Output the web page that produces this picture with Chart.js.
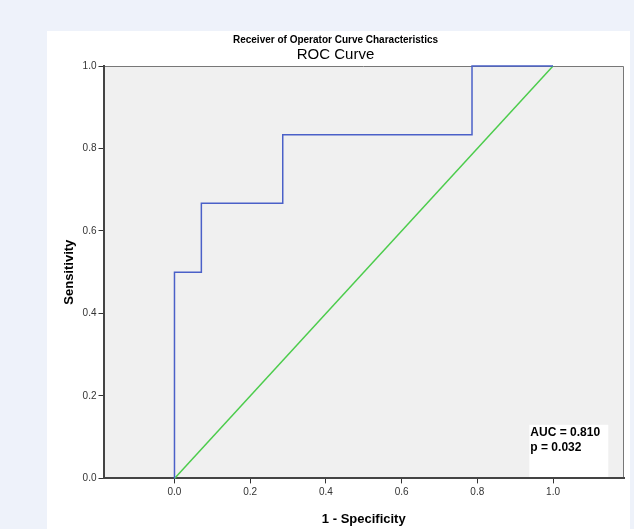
<!DOCTYPE html>
<html lang="en">
<head>
<meta charset="UTF-8">
<title>ROC Curve</title>
<script src="https://cdn.jsdelivr.net/npm/chart.js"></script>
<style>
  body { margin: 0; background: #eef2fa; }
  #panel { position: absolute; left: 47px; top: 31px; width: 583px; height: 498px; background: #fff; }
</style>
</head>
<body>
<div id="panel"><canvas id="roc" width="583" height="498"></canvas></div>
<script>
// ROC curve corners (1 - specificity, sensitivity)
const rocX = [0, 0, 0.071, 0.071, 0.286, 0.286, 0.786, 0.786, 1.0];
const rocY = [0, 0.5, 0.5, 0.667, 0.667, 0.833, 0.833, 1.0, 1.0];
// reference line
const refX = [0, 1];
const refY = [0, 1];
const xTicks = [0, 0.2, 0.4, 0.6, 0.8, 1.0];
const yTicks = [0, 0.2, 0.4, 0.6, 0.8, 1.0];
const statLines = ['AUC = 0.810', 'p = 0.032'];

const font = "'Liberation Sans', Arial, sans-serif";

const plotBg = {
  id: 'plotBg',
  beforeDraw(chart) {
    const a = chart.chartArea, ctx = chart.ctx;
    ctx.save();
    ctx.fillStyle = '#f0f0f0';
    ctx.fillRect(a.left, a.top, a.right - a.left, a.bottom - a.top);
    // white box holding the stats
    const x = chart.scales.x, y = chart.scales.y;
    const bx = x.getPixelForValue(0.9375), bx2 = x.getPixelForValue(1.146);
    const by = y.getPixelForValue(0.13);
    ctx.fillStyle = '#ffffff';
    ctx.fillRect(bx, by, bx2 - bx, a.bottom - by);
    ctx.fillStyle = '#000';
    ctx.font = "bold 12px 'Liberation Sans Narrow', 'Liberation Sans', Arial, sans-serif";
    ctx.textBaseline = 'top';
    statLines.forEach((t, i) => ctx.fillText(t, bx + 1, by + 2 + i * 15));
    // thin top / right frame
    ctx.strokeStyle = '#777';
    ctx.lineWidth = 1;
    ctx.beginPath();
    ctx.moveTo(a.left, a.top + 0.5);
    ctx.lineTo(a.right - 0.5, a.top + 0.5);
    ctx.lineTo(a.right - 0.5, a.bottom);
    ctx.stroke();
    ctx.restore();
  }
};

new Chart(document.getElementById('roc'), {
  type: 'scatter',
  data: {
    datasets: [{
      label: 'ROC',
      data: rocX.map((v, i) => ({ x: v, y: rocY[i] })),
      showLine: true,
      borderColor: '#4a60c8',
      borderWidth: 1.5,
      pointRadius: 0,
      clip: 3
    }, {
      label: 'Reference',
      data: refX.map((v, i) => ({ x: v, y: refY[i] })),
      showLine: true,
      borderColor: '#4ccc4c',
      borderWidth: 1.5,
      pointRadius: 0,
      clip: 3
    }]
  },
  options: {
    responsive: false,
    animation: false,
    layout: { padding: { left: 0, right: 6, top: 0, bottom: 0 } },
    plugins: {
      legend: { display: false },
      tooltip: { enabled: false },
      title: {
        display: true,
        text: 'Receiver of Operator Curve Characteristics',
        color: '#000',
        font: { family: font, size: 10, weight: 'bold' },
        padding: { top: 3, bottom: 0 }
      },
      subtitle: {
        display: true,
        text: 'ROC Curve',
        color: '#000',
        font: { family: font, size: 15 },
        padding: { top: 0, bottom: 2 }
      }
    },
    scales: {
      x: {
        type: 'linear',
        min: -0.1875,
        max: 1.1875,
        afterBuildTicks: s => { s.ticks = xTicks.map(v => ({ value: v })); },
        ticks: { color: '#333', font: { family: font, size: 10 }, callback: v => v.toFixed(1), padding: 3, maxRotation: 0 },
        grid: { drawOnChartArea: false, drawTicks: true, tickLength: 5, color: '#333' },
        border: { display: true, color: '#444', width: 2 },
        title: { display: true, text: '1 - Specificity', color: '#000', font: { family: font, size: 13, weight: 'bold' }, padding: { top: 10, bottom: 2 } }
      },
      y: {
        min: 0,
        max: 1,
        afterBuildTicks: s => { s.ticks = yTicks.map(v => ({ value: v })); },
        ticks: { color: '#333', font: { family: font, size: 10 }, callback: v => v.toFixed(1), padding: 2 },
        grid: { drawOnChartArea: false, drawTicks: true, tickLength: 5, color: '#333' },
        border: { display: true, color: '#444', width: 2 },
        title: { display: true, text: 'Sensitivity', color: '#000', font: { family: font, size: 13, weight: 'bold' }, padding: { top: 15, bottom: 3 } }
      }
    }
  },
  plugins: [plotBg]
});
</script>
</body>
</html>
